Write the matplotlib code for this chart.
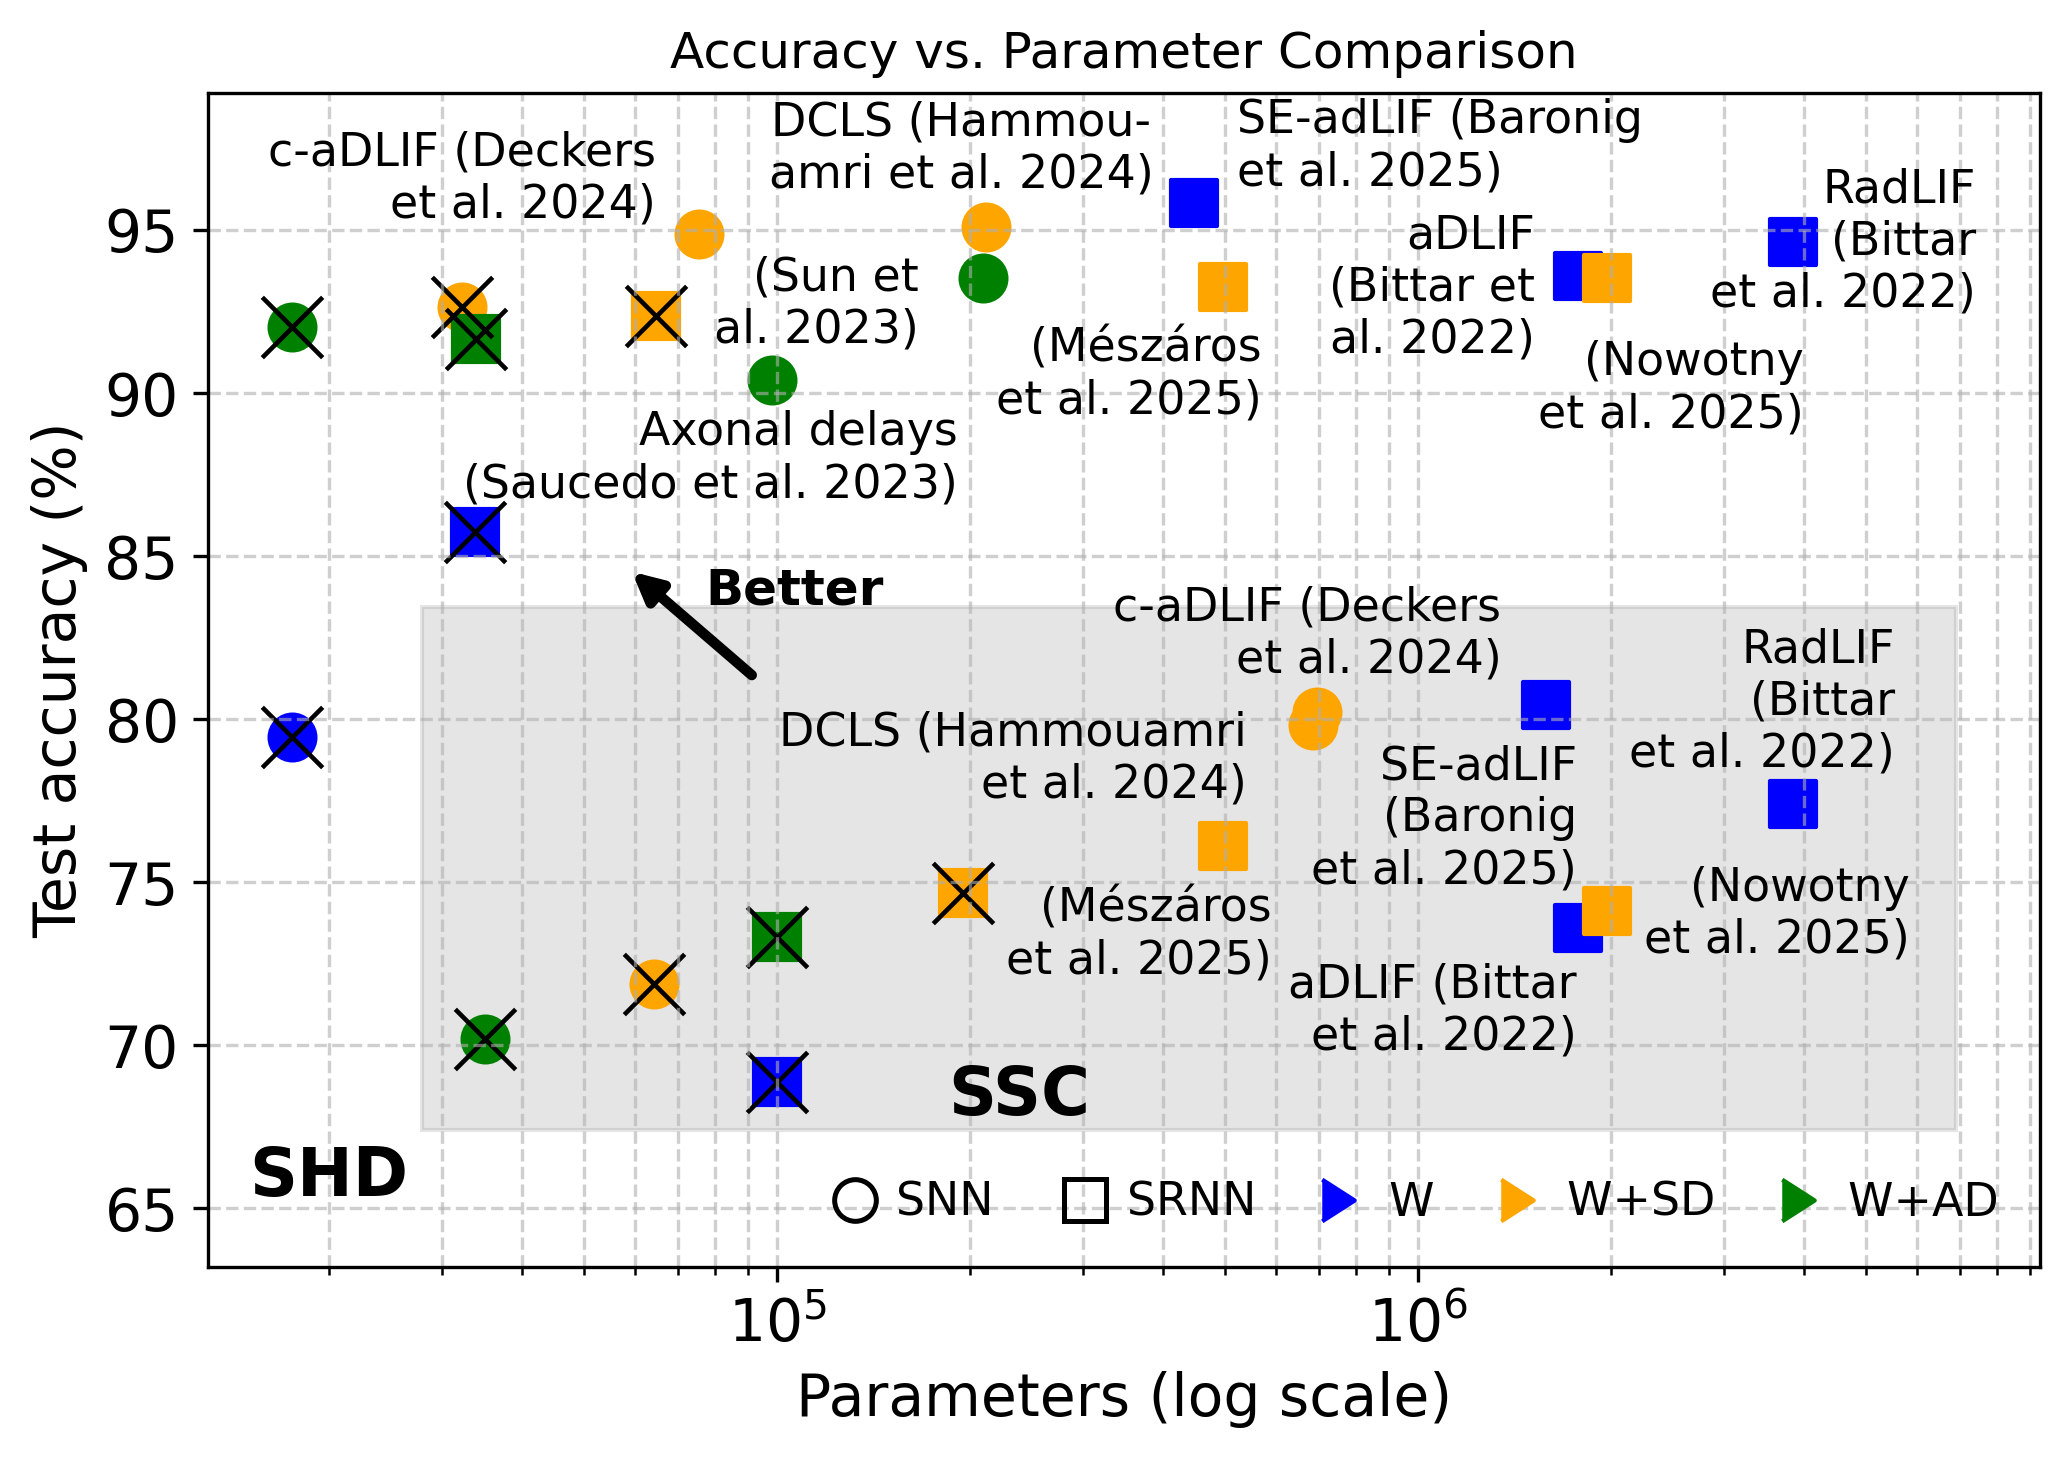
import matplotlib
matplotlib.use("Agg")
import matplotlib.pyplot as plt
from matplotlib.patches import Rectangle
from matplotlib.lines import Line2D

# ---------------- data ----------------
# SHD results
shd_labels = ["", "", "", "", "", "",
              "c-aDLIF (Deckers\net al. 2024)",
              "Axonal delays\n(Saucedo et al. 2023)",
              "DCLS (Hammou-\namri et al. 2024)",
              "(Sun et\nal. 2023)",
              "SE-adLIF (Baronig\net al. 2025)",
              "(Mészáros\net al. 2025)",
              "aDLIF\n(Bittar et\nal. 2022)",
              "(Nowotny\net al. 2025)",
              "RadLIF\n(Bittar\net al. 2022)"]
shd_params = [17500, 17500, 32200, 33900, 33800, 64750, 75500, 98200,
              211700, 209200, 446700, 495700, 1773000, 1971000, 3840000]
shd_acc = [92.02, 79.45, 92.64, 91.67, 85.75, 92.36, 94.88, 90.40,
           95.08, 93.54, 95.84, 93.26, 93.58, 93.53, 94.64]
shd_group = ["W+AD", "W", "W+SD", "W+AD", "W", "W+SD", "W+SD", "W+AD",
             "W+SD", "W+AD", "W", "W+SD", "W", "W+SD", "W"]
shd_arch = ["SNN", "SNN", "SNN", "SRNN", "SRNN", "SRNN", "SNN", "SNN",
            "SNN", "SNN", "SRNN", "SRNN", "SRNN", "SRNN", "SRNN"]
shd_crossed = [True, True, True, True, True, True, False, False,
               False, False, False, False, False, False, False]

# SSC results
ssc_labels = ["", "", "", "", "",
              "(Mészáros\net al. 2025)",
              "c-aDLIF (Deckers\net al. 2024)",
              "DCLS (Hammouamri\net al. 2024)",
              "SE-adLIF\n(Baronig\net al. 2025)",
              "aDLIF (Bittar\net al. 2022)",
              "(Nowotny\net al. 2025)",
              "RadLIF\n(Bittar\net al. 2022)"]
ssc_params = [35000, 64300, 100000, 100000, 194800, 495700, 695700, 685500,
              1584000, 1773000, 1971000, 3840000]
ssc_acc = [70.18, 71.89, 73.33, 68.88, 74.67, 76.11, 80.21, 79.82,
           80.43, 73.60, 74.12, 77.40]
ssc_group = ["W+AD", "W+SD", "W+AD", "W", "W+SD", "W+SD", "W+SD", "W+SD",
             "W", "W", "W+SD", "W"]
ssc_arch = ["SNN", "SNN", "SRNN", "SRNN", "SRNN", "SRNN", "SNN", "SNN",
            "SRNN", "SRNN", "SRNN", "SRNN"]
ssc_crossed = [True, True, True, True, True, False, False, False,
               False, False, False, False]

# SSC region (params range, accuracy range)
ssc_box_x = [27930, 6890000]
ssc_box_y = [67.40, 83.44]

groups = ["W", "W+SD", "W+AD"]
archs = ["SNN", "SRNN"]

# ---------------- style / layout ----------------
colors = {"W": "blue", "W+SD": "orange", "W+AD": "green"}
markers = {"SNN": "o", "SRNN": "s"}

# label offsets (points, to the baseline of the last line) and alignment
shd_offsets = [None] * 6 + [(-10.3, 3.9, "right"), (44.5, -28.2, "right"),
                            (-6.0, 9.5, "center"), (-15.4, -15.5, "right"),
                            (10.4, 4.1, "left"), (9.4, -30.4, "right"),
                            (-10.2, -18.2, "right"), (47.3, -35.8, "right"),
                            (43.9, -15.6, "right")]
ssc_offsets = [None] * 5 + [(11.7, -30.7, "right"), (44.2, 9.5, "right"),
                            (-16.0, -17.4, "right"), (7.4, -42.8, "right"),
                            (-0.2, -29.2, "right"), (72.6, -10.05, "right"),
                            (24.5, 9.1, "right")]

W, H = 2069, 1458
fig = plt.figure(figsize=(W / 300, H / 300), dpi=300)
ax = fig.add_axes([208 / W, 1 - 1267 / H, (2040 - 208) / W, (1267 - 93) / H])
ax.set_xscale("log")

ax.add_patch(Rectangle((ssc_box_x[0], ssc_box_y[0]),
                       ssc_box_x[1] - ssc_box_x[0], ssc_box_y[1] - ssc_box_y[0],
                       facecolor="gray", edgecolor="gray", alpha=0.2, lw=1.0))


def draw(params, acc, grp, arch, crossed, labels, offsets):
    for g in groups:
        for a in archs:
            idx = [i for i in range(len(params)) if grp[i] == g and arch[i] == a]
            if idx:
                ax.scatter([params[i] for i in idx], [acc[i] for i in idx],
                           s=121, marker=markers[a], color=colors[g])
    cx = [params[i] for i in range(len(params)) if crossed[i]]
    cy = [acc[i] for i in range(len(params)) if crossed[i]]
    ax.scatter(cx, cy, s=210, marker="x", color="black", linewidths=1.1)
    for i, lab in enumerate(labels):
        if lab and offsets[i] is not None:
            dx, dy, ha = offsets[i]
            ax.annotate(lab, (params[i], acc[i]), xytext=(dx, dy),
                        textcoords="offset points", ha=ha, va="baseline",
                        fontsize=11)


draw(shd_params, shd_acc, shd_group, shd_arch, shd_crossed, shd_labels, shd_offsets)
draw(ssc_params, ssc_acc, ssc_group, ssc_arch, ssc_crossed, ssc_labels, ssc_offsets)

ax.text(20000, 65.37, "SHD", fontsize=16, fontweight="bold", ha="center", va="baseline")
ax.text(238500, 67.86, "SSC", fontsize=16, fontweight="bold", ha="center", va="baseline")
ax.text(77400, 83.5, "Better", fontsize=12, fontweight="bold", ha="left", va="baseline")
ax.annotate("", xy=(59340, 84.52), xytext=(91300, 81.35),
            arrowprops=dict(arrowstyle="-|>", lw=2.5, color="black",
                            shrinkA=0, shrinkB=0, mutation_scale=14))

ax.set_xlim(12950, 9.33e6)
ax.set_ylim(63.2, 99.2)
ax.set_yticks([65, 70, 75, 80, 85, 90, 95])
ax.tick_params(labelsize=14)
ax.grid(True, which="both", linestyle="--", alpha=0.6)
ax.set_xlabel("Parameters (log scale)", fontsize=14)
ax.set_ylabel("Test accuracy (%)", fontsize=14)
ax.set_title("Accuracy vs. Parameter Comparison", fontsize=12)

tri = [(-0.78, -1), (0.78, 0), (-0.78, 1)]
handles = [
    Line2D([], [], ls="none", marker="o", mfc="none", mec="black", mew=1.2, ms=10, label="SNN\u2009"),
    Line2D([], [], ls="none", marker="s", mfc="none", mec="black", mew=1.2, ms=10, label="SRNN"),
    Line2D([], [], ls="none", marker=tri, color="blue", ms=10, label="\u2009W"),
    Line2D([], [], ls="none", marker=tri, color="orange", ms=10, label="\u2009W+SD"),
    Line2D([], [], ls="none", marker=tri, color="green", ms=10, label="\u2009W+AD"),
]
ax.legend(handles=handles, loc="lower right", ncol=5, frameon=False, fontsize=11,
          handlelength=1.0, handletextpad=0.4, columnspacing=1.3)

fig.savefig("out.png", dpi=300)
